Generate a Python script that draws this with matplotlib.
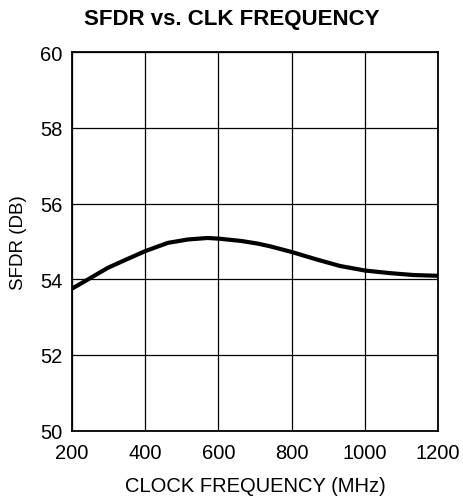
import matplotlib
matplotlib.use("Agg")
import matplotlib.pyplot as plt

plt.rcParams['font.family'] = ['Liberation Sans', 'DejaVu Sans']

# values
clk_mhz = [200, 245, 298, 353, 401, 462, 517, 571, 603, 663, 708,
           741, 800, 869, 932, 1000, 1069, 1133, 1200]
sfdr_db = [53.75, 54.0, 54.30, 54.54, 54.745, 54.96, 55.05, 55.09, 55.07, 55.01, 54.94,
           54.87, 54.72, 54.52, 54.35, 54.23, 54.16, 54.11, 54.09]

x_ticks = [200, 400, 600, 800, 1000, 1200]
y_ticks = [50, 52, 54, 56, 58, 60]


def main():
    fig = plt.figure(figsize=(4.64, 5.02), dpi=100)
    ax = fig.add_axes([0.155, 0.1404, 0.789, 0.7536])

    ax.plot(clk_mhz, sfdr_db, color="black", linewidth=3.0,
            solid_joinstyle="round", solid_capstyle="butt")

    ax.set_xlim(200, 1200)
    ax.set_ylim(50, 60)
    ax.set_xticks(x_ticks)
    ax.set_yticks(y_ticks)
    ax.grid(True, color="black", linewidth=0.9)
    ax.set_axisbelow(True)
    for s in ax.spines.values():
        s.set_linewidth(1.3)
    ax.tick_params(axis="x", length=0, labelsize=14.5, pad=9)
    ax.tick_params(axis="y", length=0, labelsize=14.5, pad=7)

    ax.set_xlabel("CLOCK FREQUENCY (MHz)", fontsize=14.5, labelpad=10)
    ax.set_ylabel("SFDR (DB)", fontsize=13.5, labelpad=9)
    fig.text(0.5, 0.961, "SFDR vs. CLK FREQUENCY", ha="center", va="center",
             fontsize=16, fontweight="bold")

    fig.savefig("out.png", dpi=100)


if __name__ == "__main__":
    main()
